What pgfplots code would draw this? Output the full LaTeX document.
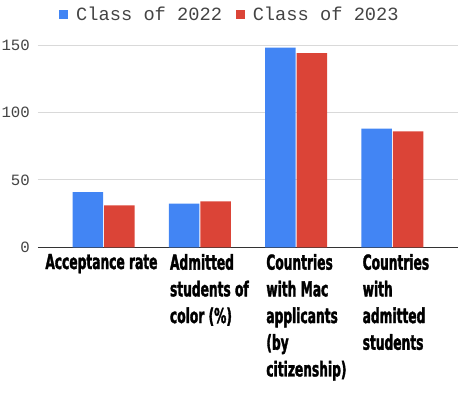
\documentclass[border=0pt]{standalone}
\usepackage{pgfplots}
\pgfplotsset{compat=1.18}
\usepackage{fontspec}
\newfontfamily\lmono{Liberation Mono}
\newfontfamily\catfont{DejaVu Sans Condensed}[FakeStretch=0.66, BoldFeatures={FakeBold=1.6}]
\definecolor{gblue}{HTML}{4285F4}
\definecolor{gred}{HTML}{DB4437}
\definecolor{gtext}{HTML}{444444}
\definecolor{ggrid}{HTML}{D9D9D9}
\definecolor{gaxis}{HTML}{333333}
\begin{document}
\begin{tikzpicture}
\begin{axis}[
  scale only axis,
  width=420pt, height=202.3pt,
  ybar=1pt, bar width=30.5pt,
  xmin=-0.68, xmax=3.68,
  ymin=0, ymax=150,
  xtick={0,1,2,3},
  xticklabels={{\hspace*{-28.3pt}Acceptance rate},{Admitted\\students of\\color (\%)},{Countries\\with Mac\\applicants\\(by\\citizenship)},{Countries\\with\\admitted\\students}},
  xticklabel style={anchor=north west, align=left, inner sep=0pt, xshift=-30pt, yshift=-6.5pt,
    font=\catfont\bfseries\fontsize{20.6pt}{26.7pt}\selectfont, text=black},
  ytick={0,50,100,150},
  yticklabel style={anchor=east, inner sep=0pt, xshift=-8pt, font=\lmono\fontsize{15.7pt}{18pt}\selectfont, text=gtext},
  /pgf/number format/assume math mode=true,
  major tick length=0pt,
  tick style={draw=none},
  ymajorgrids, grid style={ggrid, line width=0.9pt},
  separate axis lines,
  axis x line*=bottom, axis y line*=left,
  x axis line style={gaxis, line width=1.2pt, -},
  y axis line style={draw=none},
  legend columns=2,
  legend style={at={(0.0507,1.1498)}, anchor=west, draw=none, fill=none, inner sep=0pt,
    column sep=0pt, font=\lmono\fontsize{18.7pt}{20pt}\selectfont, text=gtext,
    nodes={inner sep=0pt}},
  /tikz/every odd column/.append style={column sep=7.7pt},
  /tikz/every even column/.append style={column sep=14pt},
  legend image code/.code={\fill[#1] (0pt,-4.5pt) rectangle (9pt,4.5pt);},
]
\addplot[fill=gblue, draw=none] coordinates {(0,41) (1,32.4) (2,148) (3,88)};
\addplot[fill=gred, draw=none] coordinates {(0,31) (1,34) (2,144) (3,86)};
\legend{Class of 2022, Class of 2023}
\end{axis}
\pgfresetboundingbox
\path (-38pt,-146.7pt) rectangle (436pt,247.3pt);
\end{tikzpicture}
\end{document}
